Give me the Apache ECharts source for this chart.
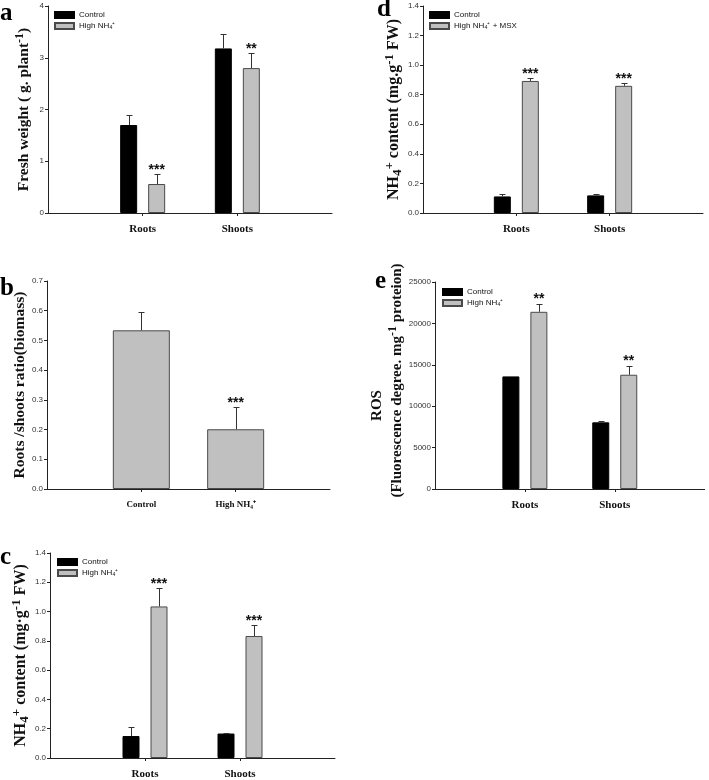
<!DOCTYPE html>
<html><head><meta charset="utf-8">
<script src="https://cdn.jsdelivr.net/npm/echarts@6/dist/echarts.min.js"></script>
<style>html,body{margin:0;padding:0;background:#fff}#c{width:709px;height:780px}</style>
</head><body><div id="c"></div>
<script>
// ---- data ----
const organs = ['Roots', 'Shoots'];
// a: fresh weight
const aControl = [1.70, 3.18], aControlErr = [0.20, 0.28];
const aHigh = [0.56, 2.80], aHighErr = [0.20, 0.29];
const aStars = ['***', '**'];
// b: roots/shoots ratio
const bCategories = ['Control', 'High NH₄⁺'];
const bRatio = [0.534, 0.201], bRatioErr = [0.060, 0.076];
const bStars = ['', '***'];
// c: NH4+ content
const cControl = [0.15, 0.167], cControlErr = [0.06, 0.005];
const cHigh = [1.035, 0.833], cHighErr = [0.125, 0.075];
const cStars = ['***', '***'];
// d: NH4+ content with MSX
const dControl = [0.112, 0.119], dControlErr = [0.015, 0.010];
const dHigh = [0.893, 0.860], dHighErr = [0.020, 0.018];
const dStars = ['***', '***'];
// e: ROS
const eControl = [13600, 8050], eControlErr = [0, 150];
const eHigh = [21400, 13800], eHighErr = [1000, 1100];
const eStars = ['**', '**'];
// axis ranges [max, interval, decimals]
const aAxis = [4, 1, 0], bAxis = [0.7, 0.1, 1], cAxis = [1.4, 0.2, 1], dAxis = [1.4, 0.2, 1], eAxis = [25000, 5000, 0];
const nameControl = 'Control', nameHigh = 'High NH₄⁺', nameMSX = 'High NH₄⁺ + MSX';
const titleA = '{b|Fresh weight ( g. plant}{sup|-1}{b|)}';
const titleB = '{b|Roots /shoots ratio(biomass)}';
const titleC = '{b|NH}{sub|4}{sup|+}{b| content (mg·g}{sup|-1}{b| FW)}';
const titleD = '{b|NH}{sub|4}{sup|+}{b| content (mg.g}{sup|-1}{b| FW)}';
const titleE = '{ros|ROS}\n{b2|(Fluorescence degree. mg}{sup|-1}{b| proteion)}';

// ---- helpers ----
const pad = arr => [null, ...arr, null];
const padCats = arr => ['', ...arr, ' '];
const SERIF = '"Liberation Serif", "Times New Roman", serif';
const SANS = '"Liberation Sans", Arial, sans-serif';
const BW = 17, GAP = 11;
const OFF = (BW + GAP) / 2;

const grids = [
  {left: 48, top: 6, width: 284, height: 207},
  {left: 47, top: 281, width: 283, height: 208},
  {left: 50, top: 553, width: 285, height: 207},
  {left: 423, top: 6, width: 280, height: 207},
  {left: 435, top: 282, width: 273, height: 207}
];

function makeRich(fs) {
  const base = {fontFamily: SERIF, fontWeight: 'bold', color: '#111'};
  const ss = Math.round(fs * 0.8);
  return {
    b: Object.assign({fontSize: fs, lineHeight: fs + 5}, base),
    b2: Object.assign({fontSize: fs, lineHeight: fs + 5, padding: [0, 0, 0, 10]}, base),
    ros: Object.assign({fontSize: fs, lineHeight: fs + 5, padding: [0, 40, 0, 0]}, base),
    sub: Object.assign({fontSize: ss, lineHeight: ss, verticalAlign: 'bottom'}, base),
    sup: Object.assign({fontSize: ss, lineHeight: ss, verticalAlign: 'top'}, base)
  };
}

function xAx(i, cats, fs) {
  return {
    type: 'category', gridIndex: i, data: padCats(cats), boundaryGap: false,
    axisLine: {lineStyle: {color: '#222', width: 1}},
    axisTick: {interval: (k) => k === 1 || k === 2, length: 3, lineStyle: {color: '#222'}},
    axisLabel: {interval: 0, margin: 11, fontFamily: SERIF, fontWeight: 'bold', fontSize: fs, color: '#111'}
  };
}
function yAx(i, ax, name, gap, fs) {
  return {
    type: 'value', gridIndex: i, min: 0, max: ax[0], interval: ax[1],
    name: name, nameLocation: 'middle', nameGap: gap, nameRotate: 90,
    nameTextStyle: {rich: makeRich(fs)},
    axisLine: {show: true, lineStyle: {color: '#222', width: 1}},
    axisTick: {show: true, length: 3, lineStyle: {color: '#222'}},
    splitLine: {show: false},
    axisLabel: {margin: 4, fontFamily: SANS, fontSize: 8, color: '#333',
      formatter: v => v.toFixed(ax[2])}
  };
}
function barS(i, name, vals, dark, width, gap) {
  return {
    type: 'bar', name: name, xAxisIndex: i, yAxisIndex: i, data: pad(vals),
    barWidth: width, barGap: gap,
    itemStyle: dark ? {color: '#000', borderColor: '#000', borderWidth: 1}
                    : {color: '#c0c0c0', borderColor: '#4a4a4a', borderWidth: 1},
    emphasis: {disabled: true}
  };
}
function errS(i, vals, errs, stars, offset) {
  return {
    type: 'custom', xAxisIndex: i, yAxisIndex: i, silent: true, z: 5,
    data: vals.map((v, k) => [k + 1, v, errs[k]]),
    renderItem(params, api) {
      const k = api.value(0), v = api.value(1), e = api.value(2);
      const base = api.coord([k, v]);
      const top = api.coord([k, v + e]);
      const x = Math.round(base[0] + offset) + 0.5;
      const ty = Math.round(top[1]) + 0.5;
      const ch = [];
      if (e > 0) {
        ch.push({type: 'line', shape: {x1: x, y1: base[1], x2: x, y2: ty}, style: {stroke: '#333', lineWidth: 1}});
        ch.push({type: 'line', shape: {x1: x - 3, y1: ty, x2: x + 3, y2: ty}, style: {stroke: '#333', lineWidth: 1}});
      }
      const s = stars[params.dataIndex];
      if (s) ch.push({type: 'text', style: {text: s, x: base[0] + offset, y: top[1] - 4, align: 'center', verticalAlign: 'middle',
        font: 'bold 14px ' + SANS, fill: '#111'}});
      return {type: 'group', children: ch};
    }
  };
}
function leg(left, top, names) {
  return {
    orient: 'vertical', left: left, top: top, padding: 0, itemGap: 3,
    itemWidth: 19, itemHeight: 6, icon: 'rect', selectedMode: false,
    data: names, textStyle: {fontFamily: SANS, fontSize: 8, color: '#111'}
  };
}
function letter(t, x, y) {
  return {type: 'text', x: x, y: y, style: {text: t, font: 'bold 25px ' + SERIF, fill: '#000', verticalAlign: 'middle'}};
}

const option = {
  animation: false,
  backgroundColor: '#fff',
  grid: grids,
  xAxis: [xAx(0, organs, 11), xAx(1, bCategories, 9), xAx(2, organs, 11), xAx(3, organs, 11), xAx(4, organs, 11)],
  yAxis: [
    yAx(0, aAxis, titleA, 14, 15.5),
    yAx(1, bAxis, titleB, 16, 15.5),
    yAx(2, cAxis, titleC, 18, 16),
    yAx(3, dAxis, titleD, 15, 16),
    yAx(4, eAxis, titleE, 16, 15)
  ],
  legend: [
    leg(54, 11, [nameControl, nameHigh]),
    leg(57, 558, [nameControl, nameHigh]),
    leg(429, 11, [nameControl, nameMSX]),
    leg(442, 288, [nameControl, nameHigh])
  ],
  series: [
    barS(0, nameControl, aControl, true, BW, (GAP / BW * 100) + '%'),
    barS(0, nameHigh, aHigh, false, BW, (GAP / BW * 100) + '%'),
    errS(0, aControl, aControlErr, ['', ''], -OFF),
    errS(0, aHigh, aHighErr, aStars, OFF),

    barS(1, 'ratio', bRatio, false, 57, '0%'),
    errS(1, bRatio, bRatioErr, bStars, 0),

    barS(2, nameControl, cControl, true, BW, (GAP / BW * 100) + '%'),
    barS(2, nameHigh, cHigh, false, BW, (GAP / BW * 100) + '%'),
    errS(2, cControl, cControlErr, ['', ''], -OFF),
    errS(2, cHigh, cHighErr, cStars, OFF),

    barS(3, nameControl, dControl, true, BW, (GAP / BW * 100) + '%'),
    barS(3, nameMSX, dHigh, false, BW, (GAP / BW * 100) + '%'),
    errS(3, dControl, dControlErr, ['', ''], -OFF),
    errS(3, dHigh, dHighErr, dStars, OFF),

    barS(4, nameControl, eControl, true, BW, (GAP / BW * 100) + '%'),
    barS(4, nameHigh, eHigh, false, BW, (GAP / BW * 100) + '%'),
    errS(4, eControl, eControlErr, ['', ''], -OFF),
    errS(4, eHigh, eHighErr, eStars, OFF)
  ],
  graphic: [letter('a', 0, 14), letter('b', 0, 289), letter('c', 0, 558), letter('d', 377, 10), letter('e', 375, 282)]
};
const chart = echarts.init(document.getElementById('c'), null, {renderer: 'canvas'});
chart.setOption(option);
</script></body></html>
